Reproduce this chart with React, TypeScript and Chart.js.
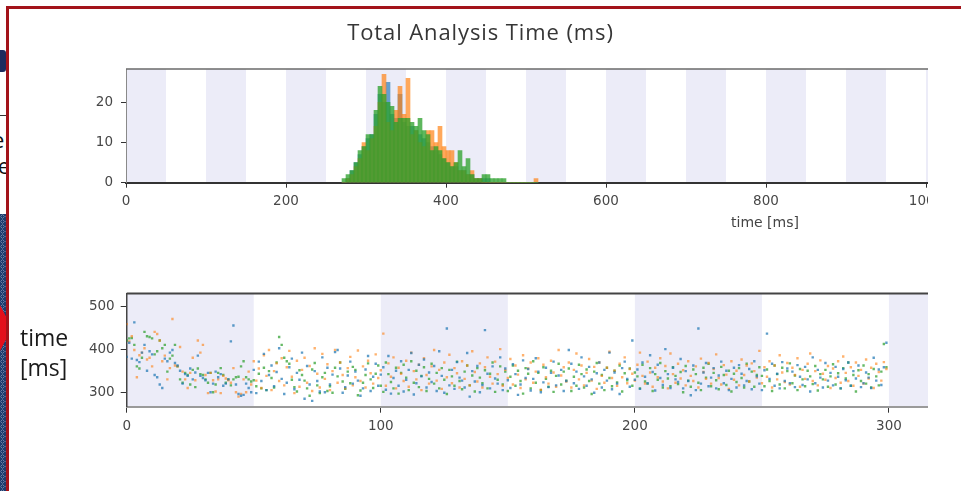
import React, { useEffect, useRef } from "react";
import { Chart, registerables } from "chart.js";
Chart.register(...registerables);

// ---------- Histogram data (5 ms bins, bin start values) ----------
const HIST_BINS = [
  270, 275, 280, 285, 290, 295, 300, 305, 310, 315,
  320, 325, 330, 335, 340, 345, 350, 355, 360, 365,
  370, 375, 380, 385, 390, 395, 400, 405, 410, 415,
  420, 425, 430, 435, 440, 445, 450, 455, 460, 465,
  470, 475, 480, 485, 490, 495, 500, 505, 510,
];
const HIST_BLUE = [
  0, 1, 3, 5, 7, 9, 11, 12, 17, 22,
  20, 25, 17, 16, 22, 15, 14, 14, 13, 12,
  11, 10, 9, 8, 7, 6, 5, 4, 4, 3,
  3, 2, 2, 1, 1, 1, 1, 0, 0, 0,
  0, 0, 0, 0, 0, 0, 0, 0, 0,
];
const HIST_ORANGE = [
  0, 1, 2, 4, 6, 10, 8, 11, 14, 20,
  27, 15, 13, 18, 24, 17, 26, 12, 13, 10,
  9, 13, 13, 10, 14, 9, 8, 8, 5, 3,
  3, 2, 3, 1, 1, 0, 0, 0, 0, 0,
  0, 0, 0, 0, 0, 0, 0, 0, 1,
];
const HIST_GREEN = [
  1, 2, 3, 5, 8, 9, 12, 12, 18, 24,
  22, 20, 19, 15, 16, 16, 16, 15, 14, 16,
  13, 12, 8, 9, 8, 6, 5, 4, 5, 8,
  4, 6, 2, 1, 1, 2, 2, 1, 1, 1,
  1, 0, 0, 0, 0, 0, 0, 0, 0,
];
const HIST_BIN_WIDTH = 5;
const HIST_X_TICKS = [0, 200, 400, 600, 800, 1000];
const HIST_Y_TICKS = [0, 10, 20];
const HIST_BANDS = [0, 100, 200, 300, 400, 500, 600, 700, 800, 900, 1000];

// ---------- Scatter data (run index 0..299) ----------
const SCATTER_BLUE = [
  382, 415, 378, 462, 375, 370, 392, 410, 350, 395,
  388, 340, 335, 318, 310, 378, 372, 392, 398, 368,
  362, 350, 320, 342, 338, 355, 330, 346, 385, 338,
  333, 328, 345, 300, 320, 348, 335, 342, 315, 320,
  330, 418, 455, 318, 296, 292, 294, 320, 310, 300,
  352, 298, 371, 326, 389, 305, 340, 362, 314, 347,
  402, 331, 296, 322, 358, 378, 307, 345, 329, 392,
  285, 361, 318, 280, 349, 326, 302, 381, 300, 357,
  318, 341, 393, 398, 355, 299, 312, 339, 371, 320,
  348, 327, 292, 309, 353, 384, 303, 336, 366, 315,
  341, 358, 306, 384, 297, 333, 350, 315, 372, 302,
  329, 352, 391, 295, 321, 364, 337, 376, 311, 346,
  324, 361, 303, 395, 338, 299, 448, 316, 352, 308,
  370, 334, 327, 311, 391, 290, 349, 325, 361, 300,
  317, 444, 343, 309, 360, 332, 320, 381, 305, 355,
  328, 310, 365, 342, 294, 318, 374, 333, 354, 304,
  331, 379, 348, 300, 323, 357, 312, 345, 371, 316,
  339, 352, 303, 326, 398, 366, 321, 348, 308, 381,
  337, 315, 359, 330, 299, 344, 369, 311, 352, 327,
  392, 307, 346, 320, 296, 356, 371, 331, 313, 420,
  329, 353, 308, 369, 336, 321, 386, 347, 304, 364,
  333, 317, 400, 342, 310, 357, 330, 324, 377, 309,
  349, 326, 293, 362, 305, 448, 320, 346, 368, 314,
  334, 356, 309, 339, 371, 321, 350, 305, 331, 357,
  311, 363, 343, 316, 326, 354, 307, 372, 337, 320,
  305, 351, 436, 331, 366, 315, 343, 309, 370, 326,
  355, 321, 348, 312, 363, 336, 317, 359, 330, 302,
  381, 321, 352, 334, 311, 368, 327, 345, 316, 359,
  336, 309, 354, 328, 369, 315, 349, 332, 362, 312,
  321, 346, 334, 310, 380, 327, 353, 317, 358, 415,
];
const SCATTER_ORANGE = [
  458, 418, 430, 398, 335, 386, 392, 402, 376, 380,
  360, 440, 435, 420, 372, 385, 330, 356, 470, 362,
  360, 405, 348, 330, 310, 345, 380, 328, 420, 392,
  410, 340, 298, 345, 328, 302, 330, 298, 338, 332,
  328, 322, 356, 300, 290, 296, 330, 300, 348, 318,
  372, 327, 355, 310, 386, 338, 398, 305, 349, 367,
  326, 379, 316, 358, 396, 336, 298, 373, 313, 352,
  380, 322, 361, 303, 402, 343, 311, 389, 331, 365,
  305, 349, 398, 322, 369, 340, 309, 356, 382, 316,
  335, 397, 326, 360, 311, 373, 344, 320, 388, 333,
  351, 436, 315, 367, 336, 381, 309, 357, 343, 326,
  373, 313, 392, 349, 330, 364, 305, 379, 340, 320,
  360, 398, 327, 352, 308, 369, 335, 387, 321, 356,
  344, 311, 372, 331, 362, 316, 395, 347, 325, 367,
  311, 358, 381, 336, 320, 371, 342, 400, 315, 352,
  333, 377, 318, 362, 341, 310, 386, 330, 355, 369,
  322, 348, 379, 306, 364, 335, 320, 373, 346, 313,
  398, 339, 358, 325, 369, 311, 352, 390, 330, 362,
  316, 345, 377, 327, 359, 308, 369, 338, 322, 357,
  394, 333, 350, 315, 366, 335, 381, 321, 354, 343,
  327, 364, 392, 338, 320, 371, 346, 313, 357, 335,
  379, 325, 361, 309, 390, 342, 322, 366, 332, 351,
  316, 372, 338, 326, 360, 311, 378, 347, 331, 368,
  320, 354, 388, 333, 318, 363, 341, 308, 372, 329,
  350, 316, 376, 340, 362, 325, 367, 349, 334, 396,
  321, 358, 336, 372, 311, 362, 330, 386, 346, 324,
  368, 318, 357, 340, 379, 313, 352, 331, 366, 390,
  326, 349, 316, 374, 343, 329, 361, 310, 355, 333,
  372, 322, 383, 345, 326, 358, 315, 369, 338, 352,
  320, 376, 332, 357, 310, 366, 347, 327, 370, 354,
];
const SCATTER_GREEN = [
  420, 425, 426, 410, 360, 355, 380, 440, 430, 428,
  425, 388, 395, 420, 402, 410, 348, 378, 385, 410,
  360, 330, 322, 345, 340, 318, 352, 312, 355, 342,
  340, 330, 322, 345, 300, 318, 345, 356, 340, 322,
  330, 316, 330, 335, 336, 360, 372, 335, 330, 325,
  328, 314, 343, 309, 357, 305, 349, 333, 311, 369,
  428, 410, 380, 372, 366, 329, 312, 302, 351, 340,
  327, 309, 292, 353, 368, 316, 298, 335, 345, 303,
  314, 299, 357, 337, 369, 325, 308, 348, 321, 359,
  352, 293, 304, 322, 340, 367, 330, 310, 343, 362,
  315, 301, 369, 342, 324, 309, 357, 297, 345, 364,
  334, 305, 372, 322, 350, 312, 338, 358, 303, 331,
  366, 320, 345, 309, 356, 329, 296, 352, 337, 315,
  371, 326, 307, 348, 362, 316, 339, 302, 356, 334,
  321, 351, 309, 343, 369, 301, 329, 360, 318, 348,
  303, 336, 362, 315, 350, 326, 297, 356, 343, 309,
  372, 322, 345, 305, 358, 331, 313, 350, 301, 338,
  366, 318, 348, 327, 355, 303, 336, 315, 364, 342,
  311, 353, 326, 296, 348, 368, 320, 340, 305, 357,
  333, 314, 350, 323, 362, 302, 344, 328, 355, 315,
  346, 337, 309, 364, 325, 320, 356, 303, 342, 329,
  368, 311, 349, 332, 314, 358, 338, 319, 347, 300,
  361, 327, 313, 353, 342, 322, 305, 357, 334, 366,
  314, 345, 328, 307, 359, 340, 317, 350, 302, 343,
  324, 356, 333, 311, 366, 325, 348, 313, 340, 358,
  338, 314, 353, 326, 303, 362, 342, 318, 357, 309,
  349, 367, 321, 339, 305, 354, 330, 314, 350, 337,
  319, 361, 304, 342, 330, 352, 313, 337, 365, 318,
  344, 309, 356, 332, 369, 315, 340, 302, 351, 326,
  362, 320, 342, 311, 354, 337, 316, 348, 412, 358,
];
const SCATTER_X_TICKS = [0, 100, 200, 300];
const SCATTER_Y_TICKS = [300, 400, 500];
const SCATTER_BANDS = [0, 100, 200, 300];

// ---------- styling ----------
const TICK_FONT = { family: "'DejaVu Sans', sans-serif", size: 13.5 };
const TICK_COLOR = "#474747";
const BAND_COLOR = "#ececf8";
const plainLabel = (v: any) => String(v);

function makeFramePlugin(starts: number[], width: number, topColor: string, topWidth: number) {
  return {
    id: "frameBands",
    beforeDraw(chart: any) {
      const { ctx, chartArea: a, scales } = chart;
      const x = scales.x;
      ctx.save();
      ctx.fillStyle = BAND_COLOR;
      for (const s of starts) {
        const x1 = Math.max(x.getPixelForValue(s), a.left);
        const x2 = Math.min(x.getPixelForValue(s + width), a.right);
        if (x2 > x1) ctx.fillRect(x1, a.top, x2 - x1, a.bottom - a.top);
      }
      ctx.restore();
    },
    afterDraw(chart: any) {
      const { ctx, chartArea: a } = chart;
      ctx.save();
      ctx.strokeStyle = topColor;
      ctx.lineWidth = topWidth;
      ctx.beginPath();
      ctx.moveTo(a.left, a.top);
      ctx.lineTo(a.right, a.top);
      ctx.stroke();
      ctx.restore();
    },
  };
}

function histConfig(): any {
  const mk = (vals: number[], color: string, order: number) => ({
    data: HIST_BINS.map((b, i) => ({ x: b + HIST_BIN_WIDTH / 2, y: vals[i] })),
    backgroundColor: color,
    borderWidth: 0,
    grouped: false,
    barPercentage: 1,
    categoryPercentage: 1,
    order,
  });
  return {
    type: "bar",
    data: {
      datasets: [
        mk(HIST_BLUE, "rgba(31,119,180,0.65)", 2),
        mk(HIST_ORANGE, "rgba(255,127,14,0.68)", 1),
        mk(HIST_GREEN, "rgba(44,160,44,0.76)", 0),
      ],
    },
    options: {
      responsive: false,
      animation: false,
      devicePixelRatio: 1,
      layout: { padding: { top: 69, left: 0, right: 0, bottom: 0 } },
      plugins: { legend: { display: false }, tooltip: { enabled: false } },
      scales: {
        x: {
          type: "linear",
          min: 0,
          max: 1050,
          offset: false,
          grid: { display: true, drawOnChartArea: false, drawTicks: true, tickLength: 5, color: "#333", offset: false },
          border: { display: true, color: "#333", width: 2 },
          ticks: { font: TICK_FONT, color: TICK_COLOR, padding: 6, maxRotation: 0, autoSkip: false, callback: plainLabel },
          afterBuildTicks: (s: any) => { s.ticks = HIST_X_TICKS.map((v) => ({ value: v })); },
          afterFit: (s: any) => { s.height = 57.3; s.paddingLeft = 0; s.paddingRight = 0; },
        },
        y: {
          type: "linear",
          min: 0,
          max: 28.3,
          grid: { display: true, drawOnChartArea: false, drawTicks: true, tickLength: 5, color: "#333" },
          border: { display: true, color: "#8a8a8a", width: 1 },
          ticks: { font: TICK_FONT, color: TICK_COLOR, padding: 8, callback: plainLabel },
          afterBuildTicks: (s: any) => { s.ticks = HIST_Y_TICKS.map((v) => ({ value: v })); },
          afterFit: (s: any) => { s.width = 126; s.paddingTop = 0; s.paddingBottom = 0; },
        },
      },
    },
    plugins: [makeFramePlugin(HIST_BANDS, 50, "#6a6a6a", 1.5)],
  };
}

function scatterConfig(): any {
  const mk = (vals: number[], color: string) => ({
    data: vals.map((v, i) => ({ x: i, y: v })),
    backgroundColor: color,
    borderWidth: 0,
    pointStyle: "rect",
    pointRadius: 1.7,
  });
  return {
    type: "scatter",
    data: {
      datasets: [
        mk(SCATTER_BLUE, "rgba(31,119,180,0.72)"),
        mk(SCATTER_ORANGE, "rgba(255,127,14,0.6)"),
        mk(SCATTER_GREEN, "rgba(44,160,44,0.72)"),
      ],
    },
    options: {
      responsive: false,
      animation: false,
      devicePixelRatio: 1,
      layout: { padding: { top: 53.5, left: 0, right: 0, bottom: 0 } },
      plugins: { legend: { display: false }, tooltip: { enabled: false } },
      scales: {
        x: {
          type: "linear",
          min: 0,
          max: 328.75,
          grid: { display: true, drawOnChartArea: false, drawTicks: true, tickLength: 6, color: "#333" },
          border: { display: true, color: "#9a9a9a", width: 2 },
          ticks: { font: TICK_FONT, color: TICK_COLOR, padding: 6, maxRotation: 0, autoSkip: false, callback: plainLabel },
          afterBuildTicks: (s: any) => { s.ticks = SCATTER_X_TICKS.map((v) => ({ value: v })); },
          afterFit: (s: any) => { s.height = 84.3; s.paddingLeft = 0; s.paddingRight = 0; },
        },
        y: {
          type: "linear",
          min: 266.6,
          max: 529,
          grid: { display: true, drawOnChartArea: false, drawTicks: true, tickLength: 6, color: "#333" },
          border: { display: true, color: "#444", width: 1.5 },
          ticks: { font: TICK_FONT, color: TICK_COLOR, padding: 6, callback: plainLabel },
          afterBuildTicks: (s: any) => { s.ticks = SCATTER_Y_TICKS.map((v) => ({ value: v })); },
          afterFit: (s: any) => { s.width = 126.7; s.paddingTop = 0; s.paddingBottom = 0; },
        },
      },
    },
    plugins: [makeFramePlugin(SCATTER_BANDS, 50, "#444", 2)],
  };
}

export default function App() {
  const histRef = useRef<HTMLCanvasElement>(null);
  const scatRef = useRef<HTMLCanvasElement>(null);

  useEffect(() => {
    const h = new Chart(histRef.current as HTMLCanvasElement, histConfig());
    const s = new Chart(scatRef.current as HTMLCanvasElement, scatterConfig());
    return () => {
      h.destroy();
      s.destroy();
    };
  }, []);

  const sans = "'Open Sans', 'Noto Sans', sans-serif";

  return (
    <div style={{ position: "fixed", left: 0, top: 0, width: 961, height: 491, background: "#fff", overflow: "hidden" }}>
      {/* slide fragments left of the frame */}
      <div style={{ position: "absolute", left: 0, top: 50, width: 6, height: 22, background: "#1b2b5e", borderRadius: "0 3px 3px 0" }} />
      <div style={{ position: "absolute", left: 0, top: 115, width: 7, height: 1, background: "#333" }} />
      <div style={{ position: "absolute", left: 0, top: 126, width: 6, height: 60, overflow: "hidden" }}>
        <div style={{ position: "absolute", right: -4, top: 0, fontFamily: sans, fontSize: 22, lineHeight: "26px", color: "#111", textAlign: "right", whiteSpace: "nowrap" }}>
          <div>el</div>
          <div>e</div>
        </div>
      </div>
      <div
        style={{
          position: "absolute",
          left: 0,
          top: 214,
          width: 6,
          height: 277,
          background: "#1d3c6e",
          backgroundImage: "radial-gradient(circle, transparent 1.2px, rgba(220,230,245,0.75) 1.6px, transparent 2.2px)",
          backgroundSize: "5px 5px",
        }}
      />
      <div style={{ position: "absolute", left: 0, top: 305, width: 6, height: 46, background: "#e3101c", clipPath: "polygon(0 0, 100% 25%, 100% 75%, 0 100%)" }} />

      {/* red frame */}
      <div style={{ position: "absolute", left: 6, top: 6, width: 1000, height: 1000, border: "3px solid #a3131a", boxSizing: "border-box" }} />

      {/* charts, clipped like the screenshot */}
      <div style={{ position: "absolute", left: 0, top: 0, width: 928, height: 491, overflow: "hidden" }}>
        <canvas ref={histRef} width={966} height={240} style={{ position: "absolute", left: 0, top: 0, width: 966, height: 240 }} />
        <canvas ref={scatRef} width={966} height={251} style={{ position: "absolute", left: 0, top: 240, width: 966, height: 251 }} />
      </div>

      {/* title */}
      <div style={{ position: "absolute", left: 0, top: 17, width: 961, textAlign: "center", fontFamily: sans, fontSize: 22, lineHeight: "28px", letterSpacing: "0.9px", color: "#363636" }}>
        Total Analysis Time (ms)
      </div>

      {/* histogram x label */}
      <div style={{ position: "absolute", left: 665, top: 214, width: 200, textAlign: "center", fontFamily: "'DejaVu Sans', sans-serif", fontSize: 14, lineHeight: "16px", color: "#444" }}>
        time [ms]
      </div>

      {/* scatter y label */}
      <div style={{ position: "absolute", left: 20, top: 322, fontFamily: sans, fontSize: 23, lineHeight: "30px", color: "#1a1a1a" }}>
        <div>time</div>
        <div>[ms]</div>
      </div>
    </div>
  );
}
